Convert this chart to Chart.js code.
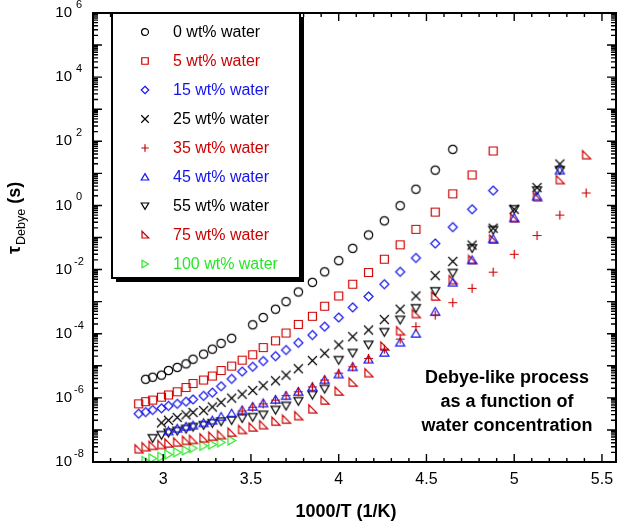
<!DOCTYPE html>
<html>
<head>
<meta charset="utf-8">
<script src="https://cdn.jsdelivr.net/npm/chart.js@4.4.0/dist/chart.umd.min.js"></script>
<style>
  html, body { margin: 0; padding: 0; background: #fff; }
  canvas { display: block; }
</style>
</head>
<body>
<canvas id="chart" width="621" height="524"></canvas>
<script>
// 1000/T (1/K) and tau_Debye (s), one pair of arrays per water content
const invT0 = [2.90, 2.94, 2.99, 3.03, 3.08, 3.13, 3.17, 3.23, 3.28, 3.33, 3.39, 3.51, 3.57, 3.64, 3.70, 3.77, 3.85, 3.92, 4.00, 4.08, 4.17, 4.26, 4.35, 4.44, 4.55, 4.65];
const tau0 = [3.8e-6, 4.4e-6, 5.1e-6, 7.1e-6, 8.9e-6, 1.15e-5, 1.6e-5, 2.3e-5, 3.3e-5, 5.0e-5, 7.2e-5, 1.9e-4, 3.2e-4, 5.8e-4, 1.0e-3, 2.0e-3, 4.0e-3, 8.5e-3, 1.9e-2, 4.6e-2, 0.12, 0.33, 0.98, 3.2, 12.6, 56];

const invT5 = [2.86, 2.90, 2.94, 2.99, 3.03, 3.08, 3.13, 3.17, 3.23, 3.28, 3.33, 3.39, 3.45, 3.51, 3.57, 3.64, 3.70, 3.77, 3.85, 3.92, 4.00, 4.08, 4.17, 4.26, 4.35, 4.44, 4.55, 4.65, 4.76, 4.88];
const tau5 = [6.5e-7, 7.6e-7, 8.5e-7, 1.05e-6, 1.23e-6, 1.55e-6, 2.1e-6, 2.8e-6, 3.6e-6, 4.8e-6, 7.1e-6, 9.8e-6, 1.5e-5, 2.2e-5, 3.7e-5, 6.0e-5, 1.05e-4, 1.95e-4, 3.5e-4, 7.2e-4, 1.5e-3, 3.5e-3, 8.1e-3, 2.1e-2, 5.9e-2, 0.18, 0.62, 2.3, 8.9, 50];

const invT15 = [2.86, 2.90, 2.94, 2.99, 3.03, 3.08, 3.13, 3.17, 3.23, 3.28, 3.33, 3.39, 3.45, 3.51, 3.57, 3.64, 3.70, 3.77, 3.85, 3.92, 4.00, 4.08, 4.17, 4.26, 4.35, 4.44, 4.55, 4.65, 4.76, 4.88];
const tau15 = [3.2e-7, 3.6e-7, 4.2e-7, 4.7e-7, 5.6e-7, 6.5e-7, 7.6e-7, 8.9e-7, 1.15e-6, 1.45e-6, 2.3e-6, 3.9e-6, 6.6e-6, 9.3e-6, 1.4e-5, 2.0e-5, 3.1e-5, 5.2e-5, 9.1e-5, 1.66e-4, 3.2e-4, 6.6e-4, 1.45e-3, 3.5e-3, 8.5e-3, 2.3e-2, 6.5e-2, 0.21, 0.76, 2.9];

const invT25 = [2.99, 3.03, 3.08, 3.13, 3.17, 3.23, 3.28, 3.33, 3.39, 3.45, 3.51, 3.57, 3.64, 3.70, 3.77, 3.85, 3.92, 4.00, 4.08, 4.17, 4.26, 4.35, 4.44, 4.55, 4.65, 4.76, 4.88, 5.00, 5.13, 5.26];
const tau25 = [1.66e-7, 2.0e-7, 2.45e-7, 2.95e-7, 3.5e-7, 4.0e-7, 5.2e-7, 7.2e-7, 9.8e-7, 1.3e-6, 1.7e-6, 2.4e-6, 3.4e-6, 5.1e-6, 8.1e-6, 1.45e-5, 2.45e-5, 4.5e-5, 8.1e-5, 1.3e-4, 2.75e-4, 5.8e-4, 1.5e-3, 6.5e-3, 1.8e-2, 5.8e-2, 0.195, 0.76, 3.6, 19.5];

const invT35 = [3.45, 3.51, 3.57, 3.64, 3.70, 3.77, 3.85, 3.92, 4.00, 4.08, 4.17, 4.26, 4.35, 4.44, 4.55, 4.65, 4.76, 4.88, 5.00, 5.13, 5.26, 5.41];
const tau35 = [3.9e-7, 5.1e-7, 6.5e-7, 8.5e-7, 1.17e-6, 1.55e-6, 2.2e-6, 3.6e-6, 5.9e-6, 9.3e-6, 1.7e-5, 3.3e-5, 6.8e-5, 1.66e-4, 3.8e-4, 9.3e-4, 2.6e-3, 8.3e-3, 3.0e-2, 0.115, 0.5, 2.45];

const invT45 = [3.03, 3.08, 3.13, 3.17, 3.23, 3.28, 3.33, 3.39, 3.45, 3.51, 3.57, 3.64, 3.70, 3.77, 3.85, 3.92, 4.00, 4.08, 4.17, 4.26, 4.35, 4.44, 4.55, 4.65, 4.76, 4.88, 5.00, 5.13, 5.26];
const tau45 = [9.3e-8, 1.12e-7, 1.29e-7, 1.41e-7, 1.66e-7, 2.0e-7, 2.6e-7, 3.3e-7, 4.2e-7, 5.4e-7, 6.9e-7, 8.9e-7, 1.17e-6, 1.58e-6, 2.2e-6, 3.7e-6, 5.5e-6, 9.3e-6, 1.6e-5, 2.6e-5, 5.4e-5, 1.02e-4, 4.9e-4, 4.0e-3, 2.0e-2, 9.1e-2, 0.41, 1.95, 12.6];

const invT55 = [2.94, 2.99, 3.03, 3.08, 3.13, 3.17, 3.23, 3.28, 3.33, 3.39, 3.45, 3.51, 3.57, 3.64, 3.70, 3.77, 3.85, 3.92, 4.00, 4.08, 4.17, 4.26, 4.35, 4.44, 4.55, 4.65, 4.76, 4.88, 5.00, 5.13, 5.26];
const tau55 = [5.5e-8, 6.9e-8, 8.1e-8, 9.3e-8, 1.07e-7, 1.23e-7, 1.41e-7, 1.62e-7, 1.82e-7, 2.0e-7, 2.3e-7, 2.5e-7, 2.95e-7, 4.2e-7, 5.6e-7, 7.9e-7, 1.23e-6, 1.9e-6, 1.5e-5, 2.5e-5, 4.5e-5, 1.12e-4, 2.7e-4, 6.2e-4, 2.1e-3, 7.8e-3, 4.6e-2, 0.17, 0.76, 2.9, 12.6];

const invT75 = [2.86, 2.90, 2.94, 2.99, 3.03, 3.08, 3.13, 3.17, 3.23, 3.28, 3.33, 3.39, 3.45, 3.51, 3.57, 3.64, 3.70, 3.77, 3.85, 3.92, 4.00, 4.08, 4.17, 4.26, 4.35, 4.44, 4.55, 4.65, 4.76, 4.88, 5.00, 5.13, 5.26, 5.41];
const tau75 = [2.5e-8, 2.9e-8, 3.2e-8, 3.4e-8, 3.8e-8, 4.1e-8, 4.6e-8, 4.9e-8, 5.5e-8, 6.2e-8, 6.9e-8, 8.3e-8, 1.0e-7, 1.2e-7, 1.41e-7, 1.82e-7, 2.1e-7, 2.7e-7, 4.4e-7, 8.3e-7, 1.58e-6, 3.0e-6, 5.9e-6, 4.0e-5, 1.2e-4, 4.1e-4, 1.45e-3, 4.7e-3, 2.0e-2, 8.7e-2, 0.40, 1.8, 6.2, 37];

const invT100 = [2.90, 2.94, 2.99, 3.03, 3.08, 3.13, 3.17, 3.23, 3.28, 3.33, 3.39];
const tau100 = [1.07e-8, 1.29e-8, 1.45e-8, 1.7e-8, 2.0e-8, 2.3e-8, 2.7e-8, 3.2e-8, 3.5e-8, 4.1e-8, 4.7e-8];

const seriesLabels = ['0 wt% water', '5 wt% water', '15 wt% water', '25 wt% water', '35 wt% water',
  '45 wt% water', '55 wt% water', '75 wt% water', '100 wt% water'];
const xTickLabels = [3, 3.5, 4, 4.5, 5, 5.5];
const yTickExponents = [6, 4, 2, 0, -2, -4, -6, -8];

const BLACK = '#000000', RED = 'rgb(204,0,0)', BLUE = 'rgb(20,20,235)', GREEN = 'rgb(40,230,40)';
const FONT = '"Liberation Sans", Arial, Helvetica, sans-serif';

// hollow marker drawn into a small canvas, used as pointStyle
function makeMarker(kind, color, size) {
    const c = document.createElement('canvas');
    const n = Math.ceil(size) + 4;
    c.width = n; c.height = n;
    const g = c.getContext('2d');
    const m = n / 2, h = size / 2;
    g.strokeStyle = color;
    g.lineWidth = 1.2;
    g.beginPath();
    switch (kind) {
        case 'circle': g.arc(m, m, h - 0.3, 0, Math.PI * 2); break;
        case 'square': g.rect(m - h + 0.5, m - h + 0.5, size - 1, size - 1); break;
        case 'diamond':
            g.moveTo(m, m - h); g.lineTo(m + h, m); g.lineTo(m, m + h); g.lineTo(m - h, m); g.closePath(); break;
        case 'cross':
            g.moveTo(m - h, m - h); g.lineTo(m + h, m + h); g.moveTo(m + h, m - h); g.lineTo(m - h, m + h); break;
        case 'plus':
            g.moveTo(m - h, m); g.lineTo(m + h, m); g.moveTo(m, m - h); g.lineTo(m, m + h); break;
        case 'up':
            g.moveTo(m, m - h * 0.9); g.lineTo(m + h, m + h * 0.8); g.lineTo(m - h, m + h * 0.8); g.closePath(); break;
        case 'down':
            g.moveTo(m - h, m - h * 0.8); g.lineTo(m + h, m - h * 0.8); g.lineTo(m, m + h * 0.9); g.closePath(); break;
        case 'corner':
            g.moveTo(m - h * 0.8, m - h); g.lineTo(m - h * 0.8, m + h * 0.8); g.lineTo(m + h, m + h * 0.8); g.closePath(); break;
        case 'right':
            g.moveTo(m - h * 0.8, m - h); g.lineTo(m + h * 0.9, m); g.lineTo(m - h * 0.8, m + h); g.closePath(); break;
    }
    g.stroke();
    return c;
}

const kinds = ['circle', 'square', 'diamond', 'cross', 'plus', 'up', 'down', 'corner', 'right'];
const colors = [BLACK, RED, BLUE, BLACK, RED, BLUE, BLACK, RED, GREEN];
const xs = [invT0, invT5, invT15, invT25, invT35, invT45, invT55, invT75, invT100];
const ys = [tau0, tau5, tau15, tau25, tau35, tau45, tau55, tau75, tau100];

const datasets = seriesLabels.map((label, i) => ({
    label: label,
    data: xs[i].map((x, j) => ({ x: x, y: ys[i][j] })),
    pointStyle: makeMarker(kinds[i], colors[i], 9),
    pointRadius: 4,
    borderColor: colors[i],
    backgroundColor: colors[i]
}));
const legendMarkers = kinds.map((k, i) => makeMarker(k, colors[i], 7.5));

const frame = {
    id: 'frame',
    afterDraw(chart) {
        const { ctx, chartArea: a, scales: { x, y } } = chart;
        ctx.save();
        ctx.strokeStyle = '#000';
        ctx.lineWidth = 1.4;
        ctx.beginPath();
        for (let i = 26; i <= 55; i++) {
            const px = x.getPixelForValue(i / 10);
            const len = i % 5 === 0 ? 8 : 4;
            ctx.moveTo(px, a.bottom); ctx.lineTo(px, a.bottom - len);
            ctx.moveTo(px, a.top); ctx.lineTo(px, a.top + len);
        }
        for (let e = -8; e <= 6; e++) {
            for (let k = 1; k <= 9; k++) {
                if (e === 6 && k > 1) break;
                const py = y.getPixelForValue(k * Math.pow(10, e));
                const len = k === 1 ? 9 : 5;
                ctx.moveTo(a.left, py); ctx.lineTo(a.left + len, py);
                ctx.moveTo(a.right, py); ctx.lineTo(a.right - len, py);
            }
        }
        ctx.stroke();
        ctx.lineWidth = 2;
        ctx.strokeRect(a.left, a.top, a.right - a.left, a.bottom - a.top);

        ctx.fillStyle = '#000';
        ctx.font = '16px ' + FONT;
        ctx.textAlign = 'center';
        ctx.textBaseline = 'middle';
        xTickLabels.forEach(v => ctx.fillText(String(v), x.getPixelForValue(v), 480));

        yTickExponents.forEach(e => {
            const py = y.getPixelForValue(Math.pow(10, e));
            ctx.font = '15px ' + FONT;
            ctx.textAlign = 'right';
            ctx.textBaseline = 'middle';
            ctx.fillText('10', 72, py);
            ctx.font = '11px ' + FONT;
            ctx.textAlign = 'left';
            ctx.fillText(String(e), e < 0 ? 74 : 76, py - 8);
        });

        ctx.font = 'bold 18px ' + FONT;
        ctx.textAlign = 'center';
        ctx.fillText('1000/T (1/K)', 346, 512);

        ctx.save();
        ctx.translate(20, 254);
        ctx.rotate(-Math.PI / 2);
        ctx.textAlign = 'left';
        ctx.textBaseline = 'alphabetic';
        ctx.font = 'bold 18px ' + FONT;
        ctx.fillText('τ', 0, 0);
        const tw = ctx.measureText('τ').width;
        ctx.font = '12.5px ' + FONT;
        ctx.fillText('Debye', tw + 1, 5);
        const dw = ctx.measureText('Debye').width;
        ctx.font = 'bold 18px ' + FONT;
        ctx.fillText('(s)', tw + dw + 6, 0);
        ctx.restore();

        ctx.font = 'bold 18px ' + FONT;
        ctx.textAlign = 'center';
        ctx.textBaseline = 'middle';
        ['Debye-like process', 'as a function of', 'water concentration']
            .forEach((t, i) => ctx.fillText(t, 507, 378 + i * 24));
        ctx.restore();
    }
};

const legendBox = {
    id: 'legendBox',
    afterDraw(chart) {
        const ctx = chart.ctx;
        ctx.save();
        ctx.fillStyle = '#000';
        ctx.fillRect(116, 17, 188, 265);
        ctx.fillStyle = '#fff';
        ctx.fillRect(112, 13, 188, 265);
        ctx.lineWidth = 2;
        ctx.strokeStyle = '#000';
        ctx.strokeRect(112, 13, 188, 265);
        ctx.font = '16px ' + FONT;
        ctx.textAlign = 'left';
        ctx.textBaseline = 'middle';
        seriesLabels.forEach((label, i) => {
            const yy = 32 + i * 29;
            const m = legendMarkers[i];
            ctx.drawImage(m, 145 - m.width / 2, yy - m.height / 2);
            ctx.fillStyle = colors[i];
            ctx.fillText(label, 173, yy + 1);
        });
        ctx.restore();
    }
};

new Chart(document.getElementById('chart').getContext('2d'), {
    type: 'scatter',
    data: { datasets: datasets },
    options: {
        responsive: false,
        animation: false,
        devicePixelRatio: 1,
        layout: { padding: { left: 93, right: 1, top: 13, bottom: 62 } },
        plugins: { legend: { display: false }, tooltip: { enabled: false } },
        scales: {
            x: {
                type: 'linear', min: 2.6, max: 5.58,
                grid: { display: false }, border: { display: false }, ticks: { display: false },
                afterFit: s => { s.height = 0; }
            },
            y: {
                type: 'logarithmic', min: 1e-8, max: 1e6,
                grid: { display: false }, border: { display: false }, ticks: { display: false },
                afterFit: s => { s.width = 0; }
            }
        }
    },
    plugins: [frame, legendBox]
});
</script>
</body>
</html>
